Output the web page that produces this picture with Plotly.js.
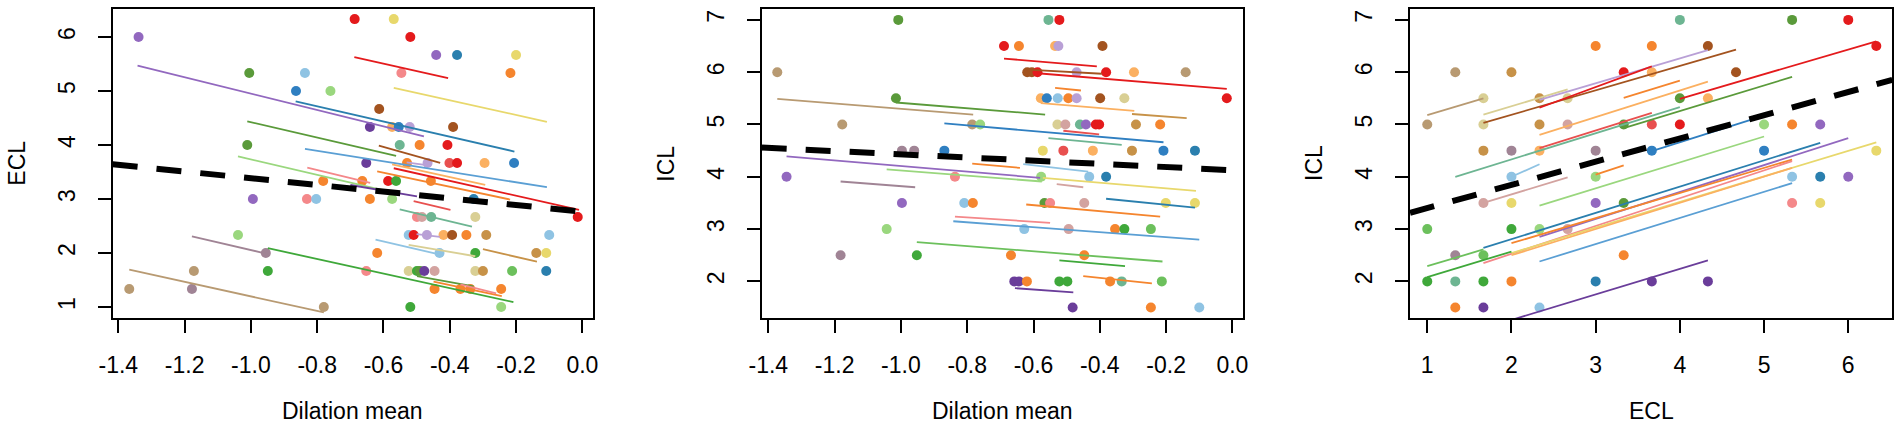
<!DOCTYPE html>
<html>
<head>
<meta charset="utf-8">
<script src="https://cdn.plot.ly/plotly-3.0.1.min.js"></script>
<style>
  html, body { margin: 0; padding: 0; background: #fff; }
  #chart { width: 1902px; height: 430px; }
</style>
</head>
<body>
<div id="chart"></div>
<script>
/* Three panels: per-subject points, per-subject fitted segments, and the
   overall fit as a thick dashed black line. */

// ---- palette (named so the colour arrays stay readable) ----
const PAL = {
  red: "#e41a1c", red2: "#e8504f", salmon: "#f4888a", yellow: "#e8d86c",
  purple: "#9268bf", dpurple: "#6a3d9a", lpurple: "#b9a0d6",
  teal: "#2a7fae", blue: "#2f7fc1", lblue: "#8fc3e3", steel: "#5a9fd4",
  lgreen: "#9ad77e", lgreen2: "#6cc05c", green: "#3fa83a", dgreen: "#5a9a3a",
  tgreen: "#6db592", orange: "#f5852e", lorange: "#fbb061", brown: "#a3531f",
  tan: "#b89a72", tanor: "#c79248", mauve: "#a08495", mauvep: "#d3a3a0",
  khaki: "#d9cf94",
};

// ---- panel 1: ECL vs dilation mean ----
const p1x = [-1.339,-0.687,-1.005,-0.837,-0.864,-0.760,-1.011,-0.782,-0.994,-0.831,-0.803,-1.039,-0.955,-0.949,-1.172,-1.367,-1.178,-0.780,
  -0.569,-0.519,-0.441,-0.378,-0.200,-0.546,-0.217,-0.613,-0.641,-0.574,-0.554,-0.521,-0.390,-0.551,-0.491,-0.407,
  -0.652,-0.529,-0.467,-0.401,-0.378,-0.295,-0.206,-0.664,-0.586,-0.562,-0.457,-0.641,-0.574,-0.328,
  -0.014,-0.499,-0.484,-0.456,-0.323,-0.524,-0.509,-0.469,-0.419,-0.393,-0.350,-0.290,-0.100,
  -0.619,-0.431,-0.323,-0.139,-0.109,-0.652,-0.524,-0.499,-0.490,-0.477,-0.446,-0.323,-0.300,-0.212,-0.109,
  -0.446,-0.368,-0.338,-0.245,-0.519,-0.245];
const p1y = [6,6.333,5.333,5.333,5,5,4,3.333,3,3,3,2.333,2,1.667,1.667,1.333,1.333,1,
  6.333,6,5.667,5.667,5.667,5.333,5.333,4.667,4.333,4.333,4.333,4.333,4.333,4,4,4,
  3.667,3.667,3.667,3.667,3.667,3.667,3.667,3.333,3.333,3.333,3.333,3,3,3,
  2.667,2.667,2.667,2.667,2.667,2.333,2.333,2.333,2.333,2.333,2.333,2.333,2.333,
  2,2,2,2,2,1.667,1.667,1.667,1.667,1.667,1.667,1.667,1.667,1.667,1.667,
  1.333,1.333,1.333,1.333,1,1];
const p1c = ["purple","red","dgreen","lblue","blue","lgreen","dgreen","orange","purple","salmon","lblue","lgreen","mauve","green","tan","tan","mauve","tan",
  "yellow","red","purple","teal","yellow","salmon","orange","brown","dpurple","lorange","blue","lpurple","brown","tgreen","orange","red",
  "dpurple","orange","lpurple","red2","red","lorange","blue","orange","red","green","orange","orange","lgreen","teal",
  "red","salmon","mauvep","tgreen","khaki","lblue","red","lpurple","lorange","brown","orange","tanor","lblue",
  "orange","lblue","green","tanor","yellow","salmon","khaki","green","dgreen","dpurple","mauvep","khaki","tanor","lgreen2","teal",
  "orange","orange","orange","orange","green","lgreen"];
const s1x0 = [-0.688,-0.569,-1.342,-0.865,-1.011,-0.837,-1.039,-0.830,-0.614,-0.574,-0.619,-0.569,-0.700,-0.509,-0.551,-0.500,-0.624,-0.524,-0.300,-1.178,-0.949,-1.367,-0.499,-0.449,-0.368,-0.530];
const s1x1 = [-0.405,-0.107,-0.478,-0.205,-0.562,-0.107,-0.570,-0.640,-0.429,-0.293,-0.218,-0.010,-0.499,-0.398,-0.333,-0.430,-0.429,-0.323,-0.137,-0.955,-0.208,-0.780,-0.328,-0.243,-0.260,-0.460];
const s1y0 = [5.63,5.06,5.47,4.81,4.44,3.93,3.79,3.58,3.99,3.64,3.51,3.57,3.26,2.96,2.81,2.35,2.25,2.15,2.07,2.31,2.09,1.69,1.57,1.47,1.42,3.68];
const s1y1 = [5.24,4.43,4.16,3.88,3.80,3.22,3.12,3.30,3.67,3.26,2.99,2.80,3.05,2.80,2.49,2.30,1.97,1.94,1.84,1.99,1.09,0.90,1.38,1.20,1.25,3.62];
const s1c  = ["red","yellow","purple","teal","dgreen","steel","lgreen","salmon","brown","lorange","orange","red","dpurple","red2","tgreen","lpurple","lblue","khaki","tanor","mauve","green","tan","dgreen","orange","salmon","lpurple"];

// ---- panel 2: ICL vs dilation mean ----
const p2x = [-1.008,-0.689,-1.373,-1.015,-1.177,-0.785,-0.761,-0.997,-0.960,-0.869,-1.345,-0.837,-0.997,-0.809,-0.783,-1.043,-1.182,-0.952,-0.668,
  -0.555,-0.522,-0.644,-0.535,-0.525,-0.392,-0.619,-0.605,-0.588,-0.470,-0.381,-0.297,-0.141,
  -0.017,-0.578,-0.560,-0.527,-0.495,-0.470,-0.399,-0.326,
  -0.528,-0.504,-0.460,-0.442,-0.412,-0.402,-0.291,-0.218,
  -0.572,-0.510,-0.421,-0.303,-0.208,-0.113,-0.577,-0.432,-0.381,
  -0.567,-0.550,-0.447,-0.201,-0.113,-0.628,-0.494,-0.354,-0.326,-0.246,-0.447,
  -0.658,-0.644,-0.620,-0.522,-0.498,-0.369,-0.334,-0.213,-0.482,-0.246,-0.100];
const p2y = [7,6.5,6,5.5,5,5,5,4.5,4.5,4.5,4,4,3.5,3.5,3.5,3,2.5,2.5,2.5,
  7,7,6.5,6.5,6.5,6.5,6,6,6,6,6,6,6,
  5.5,5.5,5.5,5.5,5.5,5.5,5.5,5.5,
  5,5,5,5,5,5,5,5,
  4.5,4.5,4.5,4.5,4.5,4.5,4,4,4,
  3.5,3.5,3.5,3.5,3.5,3,3,3,3,3,2.5,
  2,2,2,2,2,2,2,2,1.5,1.5,1.5];
const p2c = ["dgreen","red","tan","dgreen","tan","tan","lgreen","mauve","mauve","blue","purple","salmon","purple","lblue","orange","lgreen","mauve","green","orange",
  "tgreen","red","orange","lorange","lpurple","brown","brown","brown","red","lpurple","red","lorange","tan",
  "red","lorange","blue","lblue","orange","lpurple","brown","khaki",
  "khaki","mauvep","tgreen","purple","red","red","tanor","orange",
  "yellow","red2","lorange","tanor","blue","teal","lgreen","lblue","teal",
  "dgreen","salmon","mauvep","yellow","yellow","lblue","mauvep","orange","green","lgreen2","orange",
  "dpurple","dpurple","orange","green","green","orange","tgreen","lgreen2","dpurple","orange","lblue"];
const s2x0 = [-1.373,-1.015,-0.869,-1.345,-1.043,-1.182,-0.785,-0.837,-0.842,-0.952,-0.689,-0.588,-0.619,-0.535,-0.578,-0.303,-0.510,-0.555,-0.631,-0.572,-0.530,-0.381,-0.622,-0.522,-0.450,-0.656];
const s2x1 = [-0.782,-0.565,-0.208,-0.580,-0.575,-0.957,-0.641,-0.550,-0.100,-0.211,-0.409,-0.017,-0.394,-0.457,-0.296,-0.138,-0.402,-0.334,-0.435,-0.110,-0.450,-0.113,-0.218,-0.324,-0.243,-0.480];
const s2y0 = [5.49,5.42,5.02,4.39,4.14,3.91,4.25,3.24,3.15,2.75,6.26,5.98,6.05,5.70,5.41,5.20,4.88,4.74,4.24,3.98,3.86,3.58,3.47,2.40,2.10,1.87];
const s2y1 = [5.19,5.19,4.66,3.98,3.91,3.80,4.17,3.12,2.80,2.38,6.11,5.68,5.97,5.65,5.26,5.12,4.81,4.61,4.10,3.73,3.80,3.41,3.24,2.29,1.96,1.79];
const s2c  = ["tan","dgreen","blue","purple","lgreen","mauve","orange","salmon","steel","lgreen2","red","red","brown","orange","lorange","tanor","red2","tgreen","lblue","yellow","mauvep","teal","orange","green","orange","dpurple"];

// ---- panel 3: ICL vs ECL ----
const p3x = [3,3.667,1.333,2,3.333,3.667,1.667,2.333,2.667,1,1.667,2.333,2.667,3.333,3.667,1.667,2,2.333,3,3.667,
  2,3,1.667,2,3,3.333,1,2,2.333,2.667,1.333,1.667,3.333,1,1.333,1.667,2,3,3.667,1.333,1.667,2.333,
  4,5.333,6,4.333,6.333,4.667,4,4.333,4,5,5.333,5.667,5,6.333,5.333,5.667,6,5.333,5.667,4.333];
const p3y = [6.5,6.5,6,6,6,6,5.5,5.5,5.5,5,5,5,5,5,5,4.5,4.5,4.5,4.5,4.5,
  4,4,3.5,3.5,3.5,3.5,3,3,3,3,2.5,2.5,2.5,2,2,2,2,2,2,1.5,1.5,1.5,
  7,7,7,6.5,6.5,6,5.5,5.5,5,5,5,5,4.5,4.5,4,4,4,3.5,3.5,2];
const p3c = ["orange","orange","tan","tanor","red","lorange","khaki","tanor","khaki","tan","khaki","tanor","mauvep","dgreen","red2","tanor","mauve","lorange","mauve","blue",
  "lblue","lgreen","mauvep","yellow","purple","dgreen","lgreen2","green","lgreen","mauvep","mauve","lgreen2","orange","green","tgreen","green","orange","teal","dpurple","orange","dpurple","lblue",
  "tgreen","dgreen","red","brown","red","brown","dgreen","lorange","red","lgreen","orange","purple","blue","yellow","lblue","teal","purple","salmon","yellow","dpurple"];
const s3x0 = [1,1.667,1.667,2.333,2.333,3.333,2.333,2.333,1.333,3.333,4,2,1.667,3,3.667,2.333,1.667,2.333,2,1.667,2,2,2.333,1,1,1.667];
const s3x1 = [1.667,2.667,4.667,4.333,3.667,4,4.333,3.667,4,5.333,6.333,2.333,2.667,3.333,5,5,5.667,6,5.333,5.333,6.333,5.333,5.333,1.667,2,4.333];
const s3y0 = [5.18,5.19,5.03,5.47,5.32,5.51,4.80,4.55,4.00,4.93,5.49,4.00,3.50,4.04,4.49,3.45,2.64,2.85,2.73,2.35,2.54,2.50,2.38,2.29,2.08,1.10];
const s3y1 = [5.50,5.67,6.43,6.42,6.11,5.84,5.82,5.22,5.33,5.91,6.59,4.24,3.99,4.22,5.17,4.77,4.65,4.74,4.33,4.30,4.66,4.17,3.88,2.61,2.57,2.40];
const s3c  = ["tan","khaki","brown","lpurple","red","orange","lorange","red2","tgreen","dgreen","red","lblue","mauvep","orange","blue","lgreen","teal","purple","orange","salmon","yellow","lorange","steel","lgreen2","green","dpurple"];

// ---- overall fit (intercept, slope) per panel ----
const fitA = [2.765, 4.125, 2.957];
const fitB = [-0.62, -0.305, 0.444];

// ---- tick labels ----
const dilTicks = [-1.4, -1.2, -1.0, -0.8, -0.6, -0.4, -0.2, 0.0];
const dilText  = ["-1.4", "-1.2", "-1.0", "-0.8", "-0.6", "-0.4", "-0.2", "0.0"];
const eclTicks = [1, 2, 3, 4, 5, 6];
const iclTicks = [2, 3, 4, 5, 6, 7];
const xTitles = ["Dilation mean", "Dilation mean", "ECL"];
const yTitles = ["ECL", "ICL", "ICL"];

// ---- geometry (pixels in the 1902 x 430 frame) ----
const W = 1902;
const boxL = [112.7, 761.7, 1410];
const boxR = [593.3, 1242.7, 1892.3];
const xRanges = [[-1.417, 0.033], [-1.420, 0.031], [0.795, 6.523]];
const yRanges = [[0.796, 6.52], [1.300, 7.208], [1.300, 7.208]];

const FONT = "Liberation Sans, Arial, sans-serif";

const panels = [
  { px: p1x, py: p1y, pc: p1c, x0: s1x0, x1: s1x1, y0: s1y0, y1: s1y1, sc: s1c },
  { px: p2x, py: p2y, pc: p2c, x0: s2x0, x1: s2x1, y0: s2y0, y1: s2y1, sc: s2c },
  { px: p3x, py: p3y, pc: p3c, x0: s3x0, x1: s3x1, y0: s3y0, y1: s3y1, sc: s3c },
];

const traces = [];
panels.forEach((p, i) => {
  const xa = i === 0 ? "x" : "x" + (i + 1);
  const ya = i === 0 ? "y" : "y" + (i + 1);
  // points
  traces.push({
    type: "scatter", mode: "markers", xaxis: xa, yaxis: ya,
    x: p.px, y: p.py,
    marker: { size: 10, color: p.pc.map(k => PAL[k]), line: { width: 0 } },
    hoverinfo: "x+y", showlegend: false,
  });
  // per-subject fitted segments
  p.x0.forEach((_, j) => {
    traces.push({
      type: "scatter", mode: "lines", xaxis: xa, yaxis: ya,
      x: [p.x0[j], p.x1[j]], y: [p.y0[j], p.y1[j]],
      line: { color: PAL[p.sc[j]], width: 1.8 },
      hoverinfo: "skip", showlegend: false,
    });
  });
});
// overall fits on top, spanning each box like abline()
xRanges.forEach((r, i) => {
  traces.push({
    type: "scatter", mode: "lines",
    xaxis: i === 0 ? "x" : "x" + (i + 1), yaxis: i === 0 ? "y" : "y" + (i + 1),
    x: r, y: r.map(v => fitA[i] + fitB[i] * v),
    line: { color: "#000", width: 6, dash: "25px,19px" },
    hoverinfo: "skip", showlegend: false,
  });
});

function xAxis(i) {
  const dil = i < 2;
  return {
    domain: [boxL[i] / W, boxR[i] / W], range: xRanges[i], anchor: i === 0 ? "y" : "y" + (i + 1),
    tickmode: "array", tickvals: dil ? dilTicks : eclTicks, ticktext: dil ? dilText : eclTicks.map(String),
    ticks: "outside", ticklen: 13, tickwidth: 2, tickcolor: "#000",
    ticklabelstandoff: 12,
    showline: true, mirror: true, linewidth: 2, linecolor: "#000",
    showgrid: false, zeroline: false, fixedrange: true,
    tickfont: { family: FONT, size: 23, color: "#000" },
  };
}
function yAxis(i) {
  const t = i === 0 ? eclTicks : iclTicks;
  return {
    range: yRanges[i], anchor: i === 0 ? "x" : "x" + (i + 1),
    tickmode: "array", tickvals: t, ticktext: t.map(String), tickangle: -90,
    ticks: "outside", ticklen: 13, tickwidth: 2, tickcolor: "#000",
    ticklabelstandoff: 14,
    showline: true, mirror: true, linewidth: 2, linecolor: "#000",
    showgrid: false, zeroline: false, fixedrange: true,
    tickfont: { family: FONT, size: 23, color: "#000" },
  };
}

const annotations = [];
for (let i = 0; i < 3; i++) {
  annotations.push({
    text: xTitles[i], xref: "x" + (i === 0 ? "" : i + 1) + " domain", x: 0.5,
    yref: "paper", y: (318 - 411) / 309, xanchor: "center", yanchor: "middle",
    showarrow: false, font: { family: FONT, size: 23, color: "#000" },
  });
  annotations.push({
    text: yTitles[i], xref: "paper", x: (boxL[i] - 96.5) / W,
    yref: "y" + (i === 0 ? "" : i + 1) + " domain", y: 0.5, textangle: -90,
    xanchor: "center", yanchor: "middle",
    showarrow: false, font: { family: FONT, size: 23, color: "#000" },
  });
}

const layout = {
  width: 1902, height: 430,
  margin: { l: 0, r: 0, t: 9, b: 112, pad: 0 },
  paper_bgcolor: "#fff", plot_bgcolor: "#fff",
  showlegend: false,
  xaxis: xAxis(0), yaxis: yAxis(0),
  xaxis2: xAxis(1), yaxis2: yAxis(1),
  xaxis3: xAxis(2), yaxis3: yAxis(2),
  annotations,
};

Plotly.newPlot("chart", traces, layout, { displayModeBar: false, staticPlot: true });
</script>
</body>
</html>
